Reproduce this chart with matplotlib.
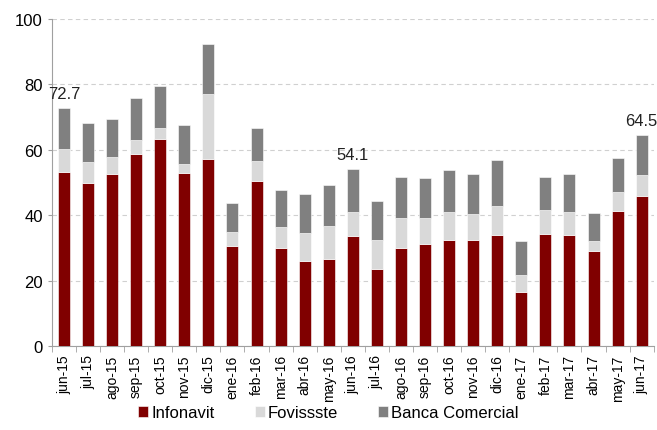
import matplotlib.pyplot as plt
import numpy as np

plt.rcParams['font.family'] = ['Liberation Sans', 'DejaVu Sans']

months = ['jun-15', 'jul-15', 'ago-15', 'sep-15', 'oct-15', 'nov-15', 'dic-15',
          'ene-16', 'feb-16', 'mar-16', 'abr-16', 'may-16', 'jun-16', 'jul-16',
          'ago-16', 'sep-16', 'oct-16', 'nov-16', 'dic-16', 'ene-17', 'feb-17',
          'mar-17', 'abr-17', 'may-17', 'jun-17']
infonavit = [53.3, 49.8, 52.6, 58.6, 63.4, 53.0, 57.0, 30.6, 50.5, 30.0, 26.0, 26.5,
             33.5, 23.4, 30.0, 31.3, 32.4, 32.4, 33.9, 16.4, 34.2, 33.9, 28.9, 41.4, 45.9]
fovissste = [6.9, 6.5, 5.2, 4.4, 3.1, 2.7, 20.1, 4.2, 6.1, 6.5, 8.4, 10.3,
             7.6, 9.0, 9.0, 7.7, 8.7, 8.0, 9.0, 5.2, 7.3, 6.9, 3.1, 5.6, 6.3]
banca = [12.5, 11.9, 11.5, 12.8, 12.9, 11.9, 15.2, 8.8, 9.9, 11.2, 11.9, 12.3,
         13.0, 11.8, 12.5, 12.2, 12.6, 12.2, 13.8, 10.4, 10.0, 11.8, 8.7, 10.5, 12.3]
labelled = {0: '72.7', 12: '54.1', 24: '64.5'}

RED = '#800000'
LIGHT = '#D9D9D9'
DARK = '#808080'

fig = plt.figure(figsize=(6.57, 4.31), dpi=100)
ax = fig.add_axes([0.079, 0.195, 0.916, 0.759])

x = np.arange(len(months))
w = 0.5
b1 = np.array(infonavit)
b2 = b1 + np.array(fovissste)
ax.bar(x, infonavit, w, color=RED, edgecolor='white', linewidth=0.4, label='Infonavit', zorder=3)
ax.bar(x, fovissste, w, bottom=b1, color=LIGHT, edgecolor='white', linewidth=0.4, label='Fovissste', zorder=3)
ax.bar(x, banca, w, bottom=b2, color=DARK, edgecolor='white', linewidth=0.4, label='Banca Comercial', zorder=3)

totals = b2 + np.array(banca)
for i, txt in labelled.items():
    ax.annotate(txt, (x[i], totals[i]), xytext=(0, 5), textcoords='offset points',
                ha='center', va='bottom', fontsize=12, color='#222222')

ax.set_xlim(-0.5, len(months) - 0.5)
ax.set_ylim(0, 100)
ax.set_yticks(range(0, 101, 20))
ax.yaxis.grid(True, linestyle=(0, (4, 3)), color='#D0D0D0', linewidth=0.8, zorder=0)
ax.set_xticks(x)
ax.set_xticklabels(months, rotation=90, fontsize=10)
ax.set_xticks(np.arange(-0.5, len(months), 1), minor=True)
ax.tick_params(axis='x', which='major', length=0, pad=6)
ax.tick_params(axis='x', which='minor', length=4, color='#A0A0A0')
ax.tick_params(axis='y', length=3, color='#A0A0A0', labelsize=12)
for s in ['top', 'right']:
    ax.spines[s].set_visible(False)
for s in ['left', 'bottom']:
    ax.spines[s].set_color('#A0A0A0')

fig.legend(loc='lower center', bbox_to_anchor=(0.5, -0.012), ncol=3, frameon=False,
           fontsize=12, handlelength=0.6, handleheight=0.6, handletextpad=0.2,
           columnspacing=2.4)

fig.savefig('out.png', dpi=100)
